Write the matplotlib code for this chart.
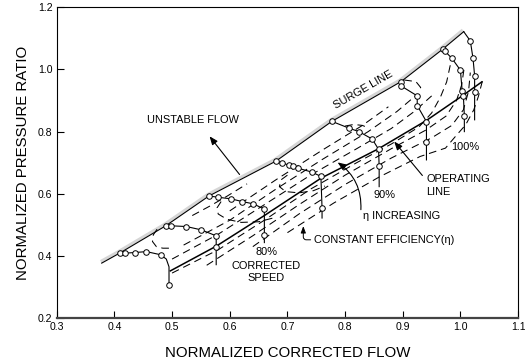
import matplotlib
matplotlib.use("Agg")
import matplotlib.pyplot as plt
import matplotlib.transforms as mtransforms

plt.rcParams['font.family'] = ['Liberation Sans', 'DejaVu Sans']
plt.rcParams['lines.scale_dashes'] = False

# ---------------- data (normalized flow, normalized pressure ratio) ----------------
surge_x = [0.378, 0.409, 0.489, 0.564, 0.680, 0.777, 0.897, 0.969, 1.0056]
surge_y = [0.377, 0.409, 0.497, 0.593, 0.705, 0.833, 0.961, 1.065, 1.1216]

oper_x = [0.497, 0.577, 0.660, 0.758, 0.858, 0.941, 1.003, 1.037]
oper_y = [0.352, 0.432, 0.530, 0.650, 0.745, 0.836, 0.915, 0.960]

# constant speed lines: line path and measured points (circles)
s50_line_x = [0.409, 0.418, 0.435, 0.4555, 0.480, 0.490, 0.4947, 0.4947]
s50_line_y = [0.409, 0.409, 0.411, 0.414, 0.404, 0.390, 0.365, 0.307]
s50_pts_x = [0.409, 0.418, 0.435, 0.4555, 0.480, 0.4947]
s50_pts_y = [0.409, 0.409, 0.411, 0.414, 0.404, 0.307]

s60_line_x = [0.489, 0.4987, 0.5247, 0.5506, 0.5765, 0.5765, 0.5765]
s60_line_y = [0.497, 0.497, 0.4947, 0.484, 0.4647, 0.430, 0.372]
s60_pts_x = [0.489, 0.4987, 0.5247, 0.5506, 0.5765, 0.5765]
s60_pts_y = [0.497, 0.497, 0.4947, 0.484, 0.4647, 0.430]

s80_line_x = [0.5638, 0.5794, 0.6024, 0.6214, 0.641, 0.660, 0.660, 0.660]
s80_line_y = [0.593, 0.589, 0.5837, 0.5751, 0.5676, 0.5505, 0.468, 0.443]
s80_pts_x = [0.5638, 0.5794, 0.6024, 0.6214, 0.641, 0.660, 0.660]
s80_pts_y = [0.593, 0.589, 0.5837, 0.5751, 0.5676, 0.5505, 0.468]

s85_line_x = [0.680, 0.6906, 0.702, 0.709, 0.719, 0.742, 0.758, 0.760, 0.760]
s85_line_y = [0.705, 0.700, 0.692, 0.688, 0.682, 0.670, 0.656, 0.554, 0.522]
s85_pts_x = [0.680, 0.6906, 0.702, 0.709, 0.719, 0.742, 0.758, 0.760]
s85_pts_y = [0.705, 0.700, 0.692, 0.688, 0.682, 0.670, 0.656, 0.554]

s90_line_x = [0.777, 0.807, 0.824, 0.847, 0.858, 0.859, 0.859]
s90_line_y = [0.833, 0.811, 0.800, 0.776, 0.743, 0.688, 0.623]
s90_pts_x = [0.777, 0.807, 0.824, 0.847, 0.858, 0.859]
s90_pts_y = [0.833, 0.811, 0.800, 0.776, 0.743, 0.688]

s95_line_x = [0.897, 0.897, 0.925, 0.925, 0.941, 0.941, 0.941]
s95_line_y = [0.961, 0.947, 0.915, 0.884, 0.832, 0.768, 0.709]
s95_pts_x = [0.897, 0.897, 0.925, 0.925, 0.941, 0.941]
s95_pts_y = [0.961, 0.947, 0.915, 0.884, 0.832, 0.768]

s100_line_x = [0.969, 0.9735, 0.985, 0.9998, 1.003, 1.005, 1.0067, 1.0067]
s100_line_y = [1.065, 1.058, 1.036, 0.998, 0.930, 0.915, 0.851, 0.800]
s100_pts_x = [0.969, 0.9735, 0.985, 0.9998, 1.003, 1.005, 1.0067]
s100_pts_y = [1.065, 1.058, 1.036, 0.998, 0.930, 0.915, 0.851]

s105_line_x = [1.0056, 1.017, 1.0217, 1.0245, 1.0245, 1.0245]
s105_line_y = [1.1216, 1.092, 1.036, 0.980, 0.929, 0.838]
s105_pts_x = [1.017, 1.0217, 1.0245, 1.0245]
s105_pts_y = [1.092, 1.036, 0.980, 0.929]

# constant efficiency contours (dashed)
u1_x = [0.50, 0.58, 0.66, 0.74, 0.82, 0.88, 0.92, 0.95]
u1_y = [0.39, 0.47, 0.565, 0.66, 0.745, 0.81, 0.865, 0.915]
u2_x = [0.52, 0.60, 0.68, 0.76, 0.84, 0.89, 0.925]
u2_y = [0.435, 0.515, 0.615, 0.71, 0.80, 0.865, 0.92]
u3_x = [0.60, 0.68, 0.76, 0.83, 0.875]
u3_y = [0.545, 0.645, 0.74, 0.82, 0.88]
u4_x = [0.535, 0.565, 0.595, 0.630]
u4_y = [0.530, 0.560, 0.592, 0.632]
l1_x = [0.50, 0.58, 0.66, 0.74, 0.82, 0.88, 0.928, 0.950, 0.965, 0.976, 0.983]
l1_y = [0.345, 0.42, 0.515, 0.615, 0.700, 0.76, 0.815, 0.86, 0.91, 0.96, 1.02]
l2_x = [0.56, 0.64, 0.72, 0.80, 0.88, 0.94, 0.975, 0.993, 1.002, 1.006]
l2_y = [0.37, 0.465, 0.565, 0.66, 0.745, 0.805, 0.85, 0.90, 0.95, 1.00]
l3_x = [0.64, 0.72, 0.80, 0.88, 0.95, 0.985, 1.005, 1.014, 1.017]
l3_y = [0.43, 0.535, 0.63, 0.715, 0.78, 0.82, 0.87, 0.93, 0.99]
l4_x = [0.70, 0.78, 0.86, 0.93, 0.974, 0.991, 1.009, 1.023, 1.031, 1.037, 1.04]
l4_y = [0.475, 0.57, 0.655, 0.72, 0.747, 0.784, 0.822, 0.870, 0.913, 0.956, 0.975]
loop50_x = [0.474, 0.4675, 0.466, 0.4728, 0.484, 0.50]
loop50_y = [0.486, 0.468, 0.4465, 0.430, 0.425, 0.425]
loop80_x = [0.585, 0.578, 0.580, 0.595, 0.620, 0.650, 0.675]
loop80_y = [0.575, 0.555, 0.535, 0.518, 0.508, 0.510, 0.522]
loop85_x = [0.700, 0.689, 0.686, 0.697, 0.720, 0.745, 0.765]
loop85_y = [0.660, 0.645, 0.623, 0.607, 0.603, 0.610, 0.625]
loop90_x = [0.800, 0.815, 0.830, 0.840]
loop90_y = [0.818, 0.823, 0.820, 0.812]
loop95_x = [0.9025, 0.9227, 0.931, 0.927]
loop95_y = [0.966, 0.961, 0.942, 0.928]

x_ticks = [0.3, 0.4, 0.5, 0.6, 0.7, 0.8, 0.9, 1.0, 1.1]
y_ticks = [0.2, 0.4, 0.6, 0.8, 1.0, 1.2]

# ---------------- figure ----------------
fig = plt.figure(figsize=(5.25, 3.64), dpi=100)
ax = fig.add_axes([0.108, 0.126, 0.879, 0.854])
ax.set_xlim(0.3, 1.1)
ax.set_ylim(0.2, 1.2)

# surge line with grey shading on the unstable side
shade = mtransforms.offset_copy(ax.transData, fig=fig, x=-0.7, y=1.2, units='points')
ax.plot(surge_x, surge_y, color='#d6d6d6', lw=2.2, transform=shade, solid_capstyle='butt', zorder=1)
ax.plot(surge_x, surge_y, color='black', lw=0.8, zorder=3)

# efficiency contours
dash = dict(color='black', lw=0.75, dashes=(5.5, 3.5), zorder=2)
for cx, cy in [(u1_x, u1_y), (u2_x, u2_y), (u3_x, u3_y), (u4_x, u4_y),
               (l1_x, l1_y), (l2_x, l2_y), (l3_x, l3_y), (l4_x, l4_y),
               (loop50_x, loop50_y), (loop80_x, loop80_y), (loop85_x, loop85_y),
               (loop90_x, loop90_y), (loop95_x, loop95_y)]:
    ax.plot(cx, cy, **dash)

# operating line
ax.plot(oper_x, oper_y, color='black', lw=1.1, zorder=3)

# speed lines
for lx, ly, px, py in [(s50_line_x, s50_line_y, s50_pts_x, s50_pts_y),
                       (s60_line_x, s60_line_y, s60_pts_x, s60_pts_y),
                       (s80_line_x, s80_line_y, s80_pts_x, s80_pts_y),
                       (s85_line_x, s85_line_y, s85_pts_x, s85_pts_y),
                       (s90_line_x, s90_line_y, s90_pts_x, s90_pts_y),
                       (s95_line_x, s95_line_y, s95_pts_x, s95_pts_y),
                       (s100_line_x, s100_line_y, s100_pts_x, s100_pts_y),
                       (s105_line_x, s105_line_y, s105_pts_x, s105_pts_y)]:
    ax.plot(lx, ly, color='black', lw=0.8, zorder=4)
    ax.plot(px, py, linestyle='none', marker='o', ms=4.0, mfc='white',
            mec='black', mew=0.7, zorder=5)

# annotations
fs = 7.9
ax.text(0.832, 0.936, 'SURGE LINE', fontsize=fs, rotation=30,
        ha='center', va='center', rotation_mode='anchor')
ax.text(0.536, 0.838, 'UNSTABLE FLOW', fontsize=fs, ha='center', va='center')
ax.annotate('', xy=(0.562, 0.792), xytext=(0.620, 0.655),
            arrowprops=dict(arrowstyle='-|>,head_length=0.5,head_width=0.2',
                            color='black', lw=0.8))
ax.text(0.941, 0.648, 'OPERATING', fontsize=fs, ha='left', va='center')
ax.text(0.941, 0.605, 'LINE', fontsize=fs, ha='left', va='center')
ax.annotate('', xy=(0.882, 0.775), xytext=(0.937, 0.652),
            arrowprops=dict(arrowstyle='-|>,head_length=0.5,head_width=0.2',
                            color='black', lw=0.8))
ax.text(1.0085, 0.752, '100%', fontsize=fs, ha='center', va='center')
ax.text(0.8674, 0.597, '90%', fontsize=fs, ha='center', va='center')
ax.text(0.831, 0.529, 'η INCREASING', fontsize=fs, ha='left', va='center')
ax.annotate('', xy=(0.783, 0.706), xytext=(0.827, 0.540),
            arrowprops=dict(arrowstyle='-|>,head_length=0.5,head_width=0.2',
                            color='black', lw=0.8, connectionstyle='arc3,rad=0.3'))
ax.text(0.746, 0.452, 'CONSTANT EFFICIENCY(η)', fontsize=fs, ha='left', va='center')
ax.annotate('', xy=(0.7275, 0.505), xytext=(0.745, 0.452),
            arrowprops=dict(arrowstyle='-|>,head_length=0.4,head_width=0.15',
                            color='black', lw=0.7, connectionstyle='angle,angleA=180,angleB=90,rad=3'))
ax.text(0.663, 0.414, '80%', fontsize=fs, ha='center', va='center')
ax.text(0.663, 0.369, 'CORRECTED', fontsize=fs, ha='center', va='center')
ax.text(0.663, 0.329, 'SPEED', fontsize=fs, ha='center', va='center')

# axes styling
ax.set_xticks(x_ticks)
ax.set_yticks(y_ticks)
ax.set_xticklabels(['%.1f' % v for v in x_ticks], fontsize=7.6)
ax.set_yticklabels(['%.1f' % v for v in y_ticks], fontsize=7.6)
ax.tick_params(direction='in', length=5, width=0.8, top=False, right=False, pad=3)
for s in ['top', 'right', 'left']:
    ax.spines[s].set_linewidth(0.8)
ax.spines['bottom'].set_linewidth(1.6)
ax.spines['bottom'].set_color('#444444')
ax.set_xlabel('NORMALIZED CORRECTED FLOW', fontsize=10.8, labelpad=10)
ax.set_ylabel('NORMALIZED PRESSURE RATIO', fontsize=10.8, labelpad=6)

fig.savefig('out.png', dpi=100)
